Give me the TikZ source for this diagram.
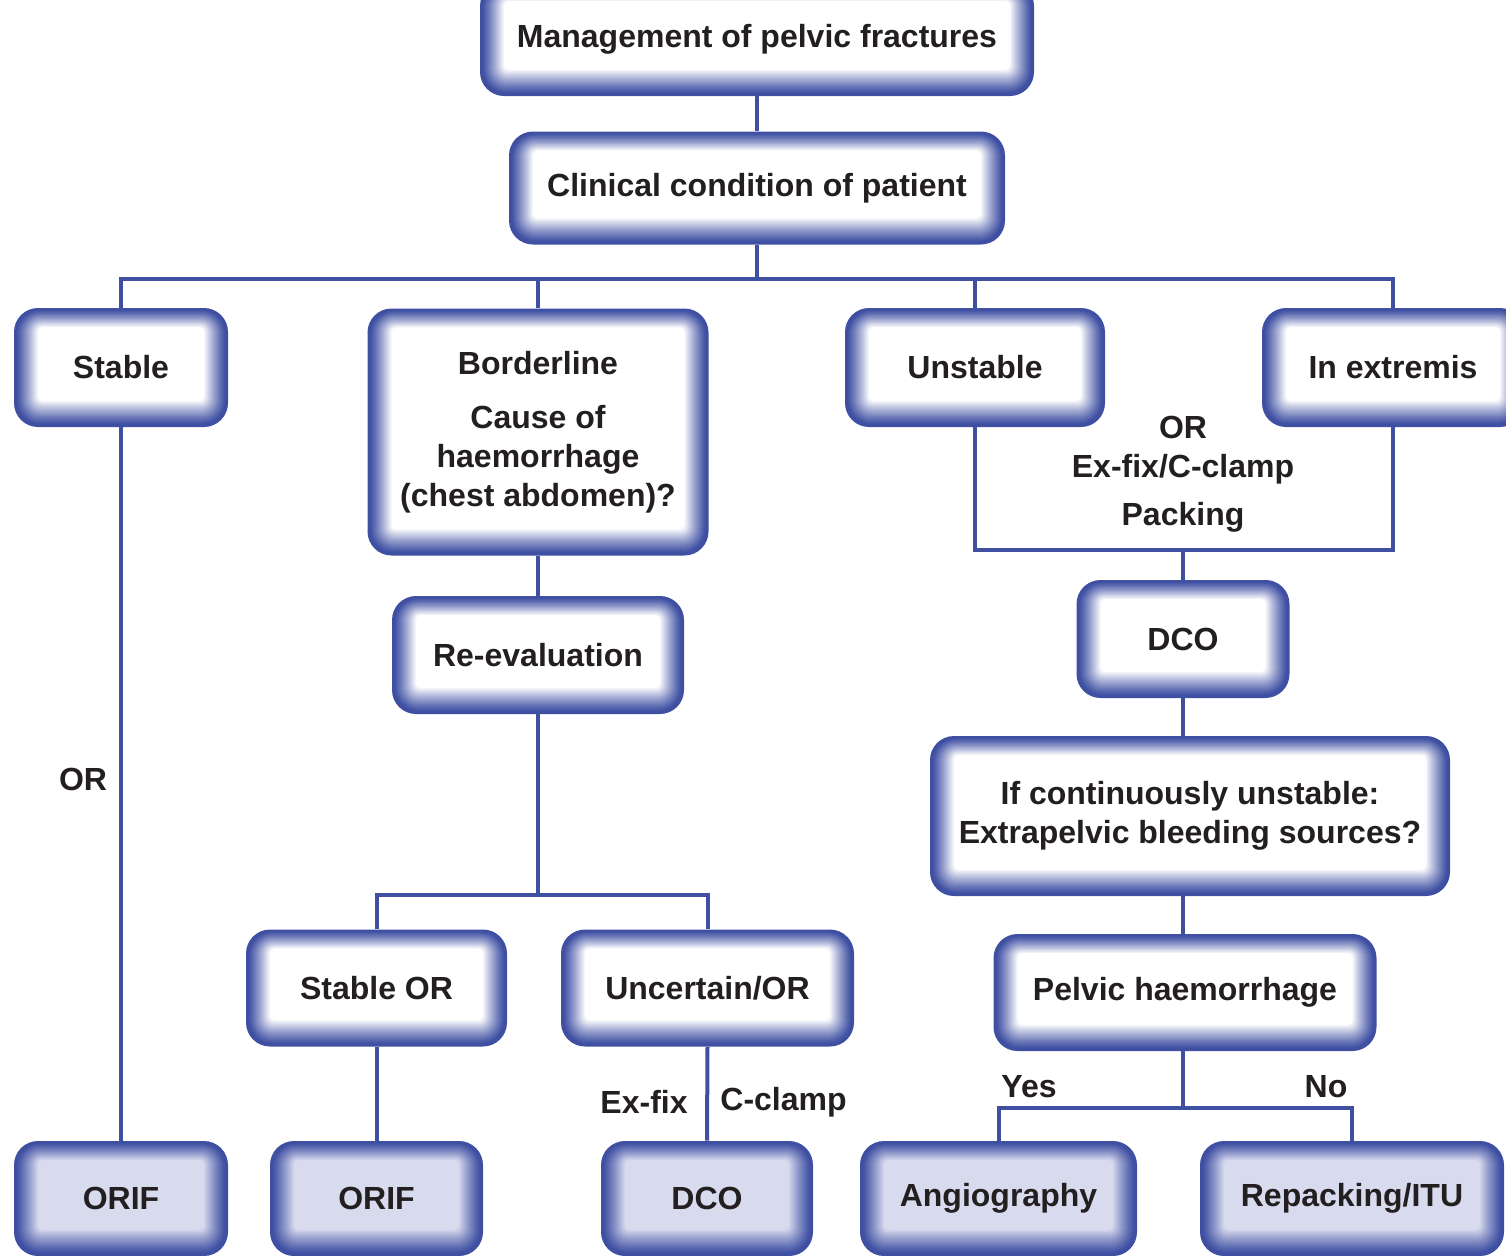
\documentclass[tikz,border=0pt]{standalone}
\usepackage{fontspec}
\setmainfont{Liberation Sans}
\usetikzlibrary{calc}
\definecolor{boxblue}{RGB}{63,80,163}
\definecolor{lav}{RGB}{216,218,238}
\definecolor{ink}{RGB}{35,31,32}
\tikzset{
  gbox/.style={
    rectangle, rounded corners=12pt, inner sep=0pt, fill=boxblue,
    font=\fontsize{16}{19.5}\selectfont\bfseries, text=ink, align=center,
    path picture={
      \foreach \i in {1,...,22}{
        \pgfmathsetmacro\pc{100*(\i/22)^1.15}
        \pgfmathsetmacro\rc{max(12-\i*0.45,2.5)}
        \fill[#1!\pc!boxblue, rounded corners=\rc pt]
          ($(path picture bounding box.south west)+(2+\i*1.0,2+\i*1.1)$) rectangle
          ($(path picture bounding box.north east)-(2+\i*1.0,1.5+\i*0.8)$);
      }
    }
  },
  gbox/.default=white,
  sz/.style 2 args={minimum width=#1*0.5pt, minimum height=#2*0.5pt},
  conn/.style={draw=boxblue, line width=2pt},
  lbl/.style={font=\fontsize{16}{19.5}\selectfont\bfseries, text=ink, inner sep=0pt, align=center}
}
\begin{document}
\begin{tikzpicture}[x=0.5pt,y=0.5pt]
\useasboundingbox (0,0) rectangle (1506,-1255);
\clip (0,0) rectangle (1506,-1255);

% junction points of the branching lines
\coordinate (bus) at (757,-279);
\coordinate (split2) at (538,-895);
\coordinate (join) at (1183,-550);
\coordinate (split3) at (1183,-1108);

% boxes
\node[gbox, sz={554}{114}] (top) at (757,-39) {Management of pelvic fractures};
\node[gbox, sz={496}{113}] (clin) at (757,-188) {Clinical condition of patient};
\node[gbox, sz={214}{119}] (stable) at (121,-367.5) {Stable};
\node[gbox, sz={341}{247}] (border) at (538,-432) {Borderline\\[7.5pt]Cause of\\haemorrhage\\(chest abdomen)?};
\node[gbox, sz={260}{119}] (unstable) at (975,-367.5) {Unstable};
\node[gbox, sz={262}{119}] (extremis) at (1393,-367.5) {In extremis};
\node[gbox, sz={213}{118}] (dco1) at (1183,-639) {DCO};
\node[gbox, sz={520}{160}] (ifcont) at (1190,-816) {If continuously unstable:\\Extrapelvic bleeding sources?};
\node[gbox, sz={383}{117}] (pelvic) at (1185,-992.5) {Pelvic haemorrhage};
\node[gbox, sz={292}{118}] (reeval) at (538,-655) {Re-evaluation};
\node[gbox, sz={261}{117}] (stableor) at (376.5,-988) {Stable OR};
\node[gbox, sz={293}{117}] (uncert) at (707.5,-988) {Uncertain/OR};
\node[gbox=lav, sz={214}{115}] (orif1) at (121,-1198.5) {ORIF};
\node[gbox=lav, sz={213}{115}] (orif2) at (376.5,-1198.5) {ORIF};
\node[gbox=lav, sz={212}{115}] (dco2) at (707,-1198.5) {DCO};
\node[gbox=lav, sz={277}{115}] (angio) at (998.5,-1198.5) {Angiography};
\node[gbox=lav, sz={304}{115}] (repack) at (1352,-1198.5) {Repacking/ITU};

% lines between boxes
\draw[conn] (top.south) -- (clin.north);
\draw[conn] (clin.south) -- (bus);
\draw[conn] (stable.north) |- (bus) -| (extremis.north);
\draw[conn] (border.north) -- (border.north |- bus);
\draw[conn] (unstable.north) -- (unstable.north |- bus);
\draw[conn] (stable.south) -- (orif1.north);
\draw[conn] (border.south) -- (reeval.north);
\draw[conn] (reeval.south) -- (split2);
\draw[conn] (stableor.north) |- (split2) -| (uncert.north);
\draw[conn] (stableor.south) -- (orif2.north);
\draw[conn] (uncert.south) -- (dco2.north);
\draw[conn] (unstable.south) |- (join) -| (extremis.south);
\draw[conn] (join) -- (dco1.north);
\draw[conn] (dco1.south) -- (dco1.south |- ifcont.north);
\draw[conn] (dco1.south |- ifcont.south) -- (dco1.south |- pelvic.north);
\draw[conn] (dco1.south |- pelvic.south) -- (split3);
\draw[conn] (angio.north) |- (split3) -| (repack.north);

% labels
\node[lbl] (orl) at (83,-779) {OR};
\node[lbl] (treat) at (1183,-474) {OR\\Ex-fix/C-clamp\\[4.5pt]Packing};
\node[lbl, anchor=east] (exfix) at (688,-1102) {Ex-fix};
\node[lbl, anchor=west] (cclamp) at (720,-1102) {C-clamp};
\node[lbl] (yes) at (1029,-1087) {Yes};
\node[lbl] (no) at (1326,-1087) {No};
\end{tikzpicture}
\end{document}
